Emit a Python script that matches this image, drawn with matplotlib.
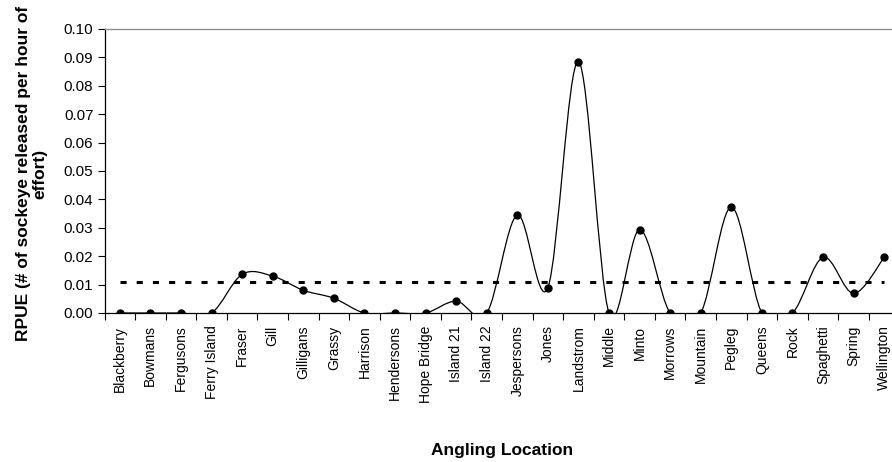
import matplotlib
matplotlib.use("Agg")
import matplotlib.pyplot as plt
from matplotlib.path import Path
from matplotlib.patches import PathPatch
import numpy as np

plt.rcParams['font.family'] = ['Liberation Sans', 'DejaVu Sans']

locations = ["Blackberry", "Bowmans", "Fergusons", "Ferry Island", "Fraser", "Gill",
             "Gilligans", "Grassy", "Harrison", "Hendersons", "Hope Bridge", "Island 21",
             "Island 22", "Jespersons", "Jones", "Landstrom", "Middle", "Minto",
             "Morrows", "Mountain", "Pegleg", "Queens", "Rock", "Spaghetti", "Spring",
             "Wellington"]
rpue = [0.0, 0.0, 0.0, 0.0, 0.0136, 0.0130, 0.0080, 0.0052, 0.0, 0.0, 0.0, 0.0042,
        0.0, 0.0345, 0.0089, 0.0885, 0.0, 0.0293, 0.0, 0.0, 0.0373, 0.0, 0.0,
        0.0196, 0.0069, 0.0196]
mean_rpue = 0.0108
yticks = [0.00, 0.01, 0.02, 0.03, 0.04, 0.05, 0.06, 0.07, 0.08, 0.09, 0.10]

fig = plt.figure(figsize=(8.92, 4.62), dpi=100)
ax = fig.add_axes([104.5/892, 149/462, 795/892, 284/462])

x = np.arange(len(locations))
y = np.array(rpue)

# smoothed line (Excel-style Bezier through the points)
verts = [(x[0], y[0])]
codes = [Path.MOVETO]
n = len(x)
for i in range(n - 1):
    p0 = (x[i-1], y[i-1]) if i > 0 else (x[i], y[i])
    p1 = (x[i], y[i])
    p2 = (x[i+1], y[i+1])
    p3 = (x[i+2], y[i+2]) if i + 2 < n else (x[i+1], y[i+1])
    c1 = (p1[0] + (p2[0]-p0[0])/6, p1[1] + (p2[1]-p0[1])/6)
    c2 = (p2[0] - (p3[0]-p1[0])/6, p2[1] - (p3[1]-p1[1])/6)
    verts += [c1, c2, p2]
    codes += [Path.CURVE4]*3
ax.add_patch(PathPatch(Path(verts, codes), facecolor='none', edgecolor='black',
                       linewidth=0.9, zorder=3))
ax.plot(x, y, linestyle='none', marker='o', markersize=5, color='black', zorder=4)
ax.plot([x[0], x[-1]], [mean_rpue, mean_rpue], color='black', linewidth=2.2,
        linestyle=(0, (2.0, 3.3)), zorder=2)

ax.set_xlim(-0.5, n - 0.5)
ax.set_ylim(0, 0.10)
ax.set_yticks(yticks)
ax.set_yticklabels([f"{v:.2f}" for v in yticks], fontsize=11)
ax.set_xticks(x)
ax.set_xticklabels(locations, rotation=90, fontsize=10)
ax.tick_params(axis='x', length=0, pad=9)
ax.set_xticks(np.arange(-0.5, n, 1), minor=True)
ax.tick_params(axis='x', which='minor', length=5, width=0.8, direction='out')
ax.tick_params(axis='y', length=5, width=0.8, direction='out', pad=3)

for s in ['left', 'bottom']:
    ax.spines[s].set_color('black')
    ax.spines[s].set_linewidth(0.9)
ax.spines['top'].set_color('#909090')
ax.spines['top'].set_linewidth(1.0)
ax.spines['right'].set_visible(False)

ax.set_xlabel("Angling Location", fontsize=12.5, fontweight='bold')
ax.xaxis.set_label_coords(0.5, -(443-313)/284)
ax.set_ylabel("RPUE (# of sockeye released per hour of\neffort)", fontsize=12.5,
              fontweight='bold', linespacing=1.05)
ax.yaxis.set_label_coords(-(104.5-47)/795, 0.49)

fig.savefig("out.png", dpi=100)
